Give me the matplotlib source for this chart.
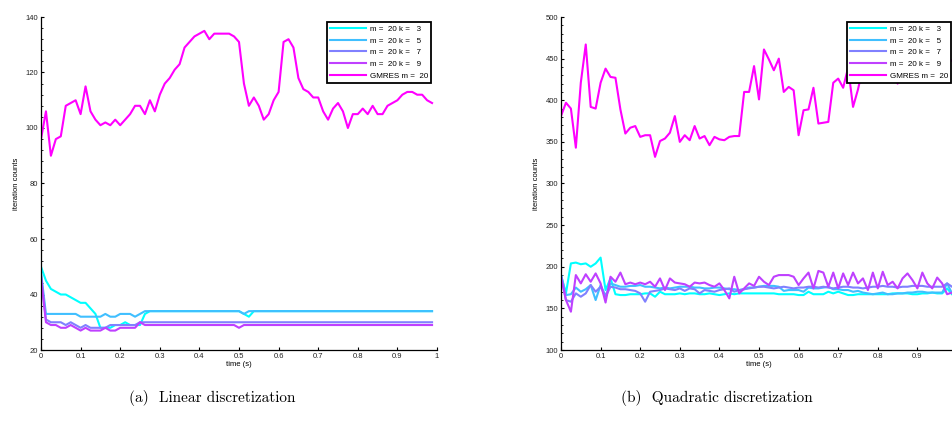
"""Iteration counts per time step: recycled GMRES vs plain GMRES (linear / quadratic)."""

import matplotlib

matplotlib.use("Agg")
import matplotlib.pyplot as plt
import numpy as np
from matplotlib.ticker import AutoMinorLocator, FixedLocator

# time steps (dt = 0.0125 s, 80 steps)
time_s = np.arange(80) * 0.0125

labels = ["m =  20 k =   3", "m =  20 k =   5", "m =  20 k =   7", "m =  20 k =   9", "GMRES m =  20"]
colors = ["#00ffff", "#40bfff", "#8080ff", "#bf40ff", "#ff00ff"]
xtick_labels = ["0", "0.1", "0.2", "0.3", "0.4", "0.5", "0.6", "0.7", "0.8", "0.9", "1"]

# (a) linear discretization
lin_k3 = [50, 45, 42, 41, 40, 40, 39, 38, 37, 37, 35, 33, 28, 28, 28, 29, 29, 30, 29, 29,
          29, 33, 34, 34, 34, 34, 34, 34, 34, 34, 34, 34, 34, 34, 34, 34, 34, 34, 34, 34,
          34, 33, 32, 34, 34, 34, 34, 34, 34, 34, 34, 34, 34, 34, 34, 34, 34, 34, 34, 34,
          34, 34, 34, 34, 34, 34, 34, 34, 34, 34, 34, 34, 34, 34, 34, 34, 34, 34, 34, 34]
lin_k5 = [48, 33, 33, 33, 33, 33, 33, 33, 32, 32, 32, 32, 32, 33, 32, 32, 33, 33, 33, 32,
          33, 34, 34, 34, 34, 34, 34, 34, 34, 34, 34, 34, 34, 34, 34, 34, 34, 34, 34, 34,
          34, 33, 34, 34, 34, 34, 34, 34, 34, 34, 34, 34, 34, 34, 34, 34, 34, 34, 34, 34,
          34, 34, 34, 34, 34, 34, 34, 34, 34, 34, 34, 34, 34, 34, 34, 34, 34, 34, 34, 34]
lin_k7 = [47, 31, 30, 30, 30, 29, 30, 29, 28, 29, 28, 28, 28, 28, 29, 29, 29, 29, 29, 29,
          30, 30, 30, 30, 30, 30, 30, 30, 30, 30, 30, 30, 30, 30, 30, 30, 30, 30, 30, 30,
          30, 30, 30, 30, 30, 30, 30, 30, 30, 30, 30, 30, 30, 30, 30, 30, 30, 30, 30, 30,
          30, 30, 30, 30, 30, 30, 30, 30, 30, 30, 30, 30, 30, 30, 30, 30, 30, 30, 30, 30]
lin_k9 = [46, 30, 29, 29, 28, 28, 29, 28, 27, 28, 27, 27, 27, 28, 27, 27, 28, 28, 28, 28,
          30, 29, 29, 29, 29, 29, 29, 29, 29, 29, 29, 29, 29, 29, 29, 29, 29, 29, 29, 29,
          28, 29, 29, 29, 29, 29, 29, 29, 29, 29, 29, 29, 29, 29, 29, 29, 29, 29, 29, 29,
          29, 29, 29, 29, 29, 29, 29, 29, 29, 29, 29, 29, 29, 29, 29, 29, 29, 29, 29, 29]
lin_gmres = [96, 106, 90, 96, 97, 108, 109, 110, 105, 115, 106, 103, 101, 102, 101, 103, 101, 103, 105, 108,
             108, 105, 110, 106, 112, 116, 118, 121, 123, 129, 131, 133, 134, 135, 132, 134, 134, 134, 134, 133,
             131, 116, 108, 111, 108, 103, 105, 110, 113, 131, 132, 129, 118, 114, 113, 111, 111, 106, 103, 107,
             109, 106, 100, 105, 105, 107, 105, 108, 105, 105, 108, 109, 110, 112, 113, 113, 112, 112, 110, 109]

# (b) quadratic discretization
quad_k3 = [190, 168, 204, 205, 203, 204, 200, 204, 211, 172, 186, 167, 166, 166, 167, 167, 167, 168, 168, 164,
           170, 167, 167, 167, 168, 167, 168, 168, 167, 167, 168, 167, 166, 167, 168, 167, 168, 168, 168, 168,
           168, 168, 168, 168, 167, 167, 167, 167, 166, 166, 170, 167, 167, 167, 170, 168, 170, 168, 166, 166,
           167, 167, 167, 167, 167, 167, 167, 168, 168, 168, 168, 167, 167, 168, 168, 169, 168, 168, 174, 167]
quad_k5 = [190, 166, 167, 175, 170, 173, 178, 160, 178, 165, 180, 178, 176, 176, 177, 177, 178, 176, 176, 175,
           174, 175, 174, 175, 176, 176, 176, 175, 175, 174, 174, 175, 175, 174, 173, 173, 172, 173, 175, 175,
           176, 177, 177, 177, 176, 171, 172, 172, 172, 170, 175, 174, 174, 175, 176, 173, 173, 172, 172, 170,
           171, 169, 168, 167, 168, 169, 167, 167, 168, 168, 169, 169, 170, 170, 169, 169, 169, 169, 180, 168]
quad_k7 = [190, 160, 158, 168, 164, 168, 178, 170, 176, 164, 176, 175, 173, 173, 172, 171, 168, 158, 170, 171,
           172, 174, 173, 172, 174, 171, 174, 173, 168, 172, 171, 170, 172, 173, 174, 170, 172, 173, 174, 175,
           176, 176, 175, 174, 175, 176, 175, 174, 175, 175, 176, 176, 175, 176, 175, 174, 175, 176, 176, 175,
           175, 174, 175, 176, 176, 177, 176, 176, 175, 176, 176, 177, 177, 177, 176, 176, 176, 176, 180, 176]
quad_k9 = [188, 160, 146, 190, 180, 191, 182, 192, 180, 157, 188, 182, 193, 179, 181, 179, 181, 179, 182, 176,
           186, 172, 186, 181, 180, 179, 176, 181, 180, 181, 178, 176, 180, 172, 162, 188, 168, 174, 180, 177,
           188, 182, 178, 188, 190, 190, 190, 188, 178, 186, 193, 174, 195, 193, 176, 193, 174, 192, 178, 193,
           180, 186, 172, 193, 174, 194, 178, 182, 174, 186, 192, 184, 174, 193, 180, 174, 187, 180, 167, 169]
quad_gmres = [381, 397, 390, 343, 421, 467, 392, 390, 421, 438, 428, 427, 389, 360, 367, 369, 356, 358, 358, 332,
              351, 354, 361, 381, 350, 358, 352, 369, 354, 357, 346, 356, 353, 352, 356, 357, 357, 410, 410, 441,
              401, 461, 449, 436, 450, 410, 416, 412, 358, 388, 389, 415, 372, 373, 374, 421, 426, 415, 439, 392,
              413, 440, 455, 445, 460, 450, 440, 435, 420, 438, 445, 455, 450, 460, 452, 448, 455, 450, 445, 448]

TICK_FONT = "Liberation Sans"


def draw_panel(ax, series, ylim, yticks, n_minor, xlabels):
    for values, color, label in zip(series, colors, labels):
        ax.plot(time_s, values, color=color, lw=1.5, label=label)
    ax.set_xlim(0, 1)
    ax.set_ylim(*ylim)
    ax.xaxis.set_major_locator(FixedLocator(np.arange(0, 1.01, 0.1)))
    ax.set_xticklabels(xlabels)
    ax.yaxis.set_major_locator(FixedLocator(yticks))
    ax.yaxis.set_minor_locator(AutoMinorLocator(n_minor))
    for side in ("top", "right"):
        ax.spines[side].set_visible(False)
    for side in ("left", "bottom"):
        ax.spines[side].set_linewidth(0.9)
    ax.tick_params(which="major", direction="in", length=2.5, width=0.8, labelsize=5.5, pad=2)
    ax.tick_params(which="minor", direction="in", length=1.3, width=0.6)
    for lab in ax.get_xticklabels() + ax.get_yticklabels():
        lab.set_family(TICK_FONT)
        lab.set_color("#222222")
    ax.set_xlabel("time (s)", fontsize=5.5, family=TICK_FONT, labelpad=1)
    ax.set_ylabel("iteration counts", fontsize=5.5, family=TICK_FONT, labelpad=4)
    leg = ax.legend(loc="upper right", bbox_to_anchor=(0.985, 0.985), borderaxespad=0,
                    fancybox=False, framealpha=1, edgecolor="black", handlelength=4.4,
                    handletextpad=0.5, labelspacing=0.5, borderpad=0.4,
                    prop={"family": TICK_FONT, "size": 5.8})
    leg.get_frame().set_linewidth(1.3)
    return leg


def main() -> None:
    fig = plt.figure(figsize=(9.52, 4.36), dpi=100)
    ax_a = fig.add_axes([41 / 952, 86 / 436, 396 / 952, 333 / 436])
    ax_b = fig.add_axes([561 / 952, 86 / 436, 396 / 952, 333 / 436])

    draw_panel(ax_a, [lin_k3, lin_k5, lin_k7, lin_k9, lin_gmres], (20, 140),
               [20, 40, 60, 80, 100, 120, 140], 5, xtick_labels)
    # the "1" label of panel (b) falls outside the cropped figure
    draw_panel(ax_b, [quad_k3, quad_k5, quad_k7, quad_k9, quad_gmres], (100, 500),
               [100, 150, 200, 250, 300, 350, 400, 450, 500], 5, xtick_labels[:-1] + [""])

    fig.text(212 / 952, 1 - 398 / 436, "(a)  Linear discretization", ha="center", va="center",
             family="cmr10", fontsize=11)
    fig.text(717 / 952, 1 - 398 / 436, "(b)  Quadratic discretization", ha="center", va="center",
             family="cmr10", fontsize=11)

    fig.savefig("out.png", dpi=100)


if __name__ == "__main__":
    main()
